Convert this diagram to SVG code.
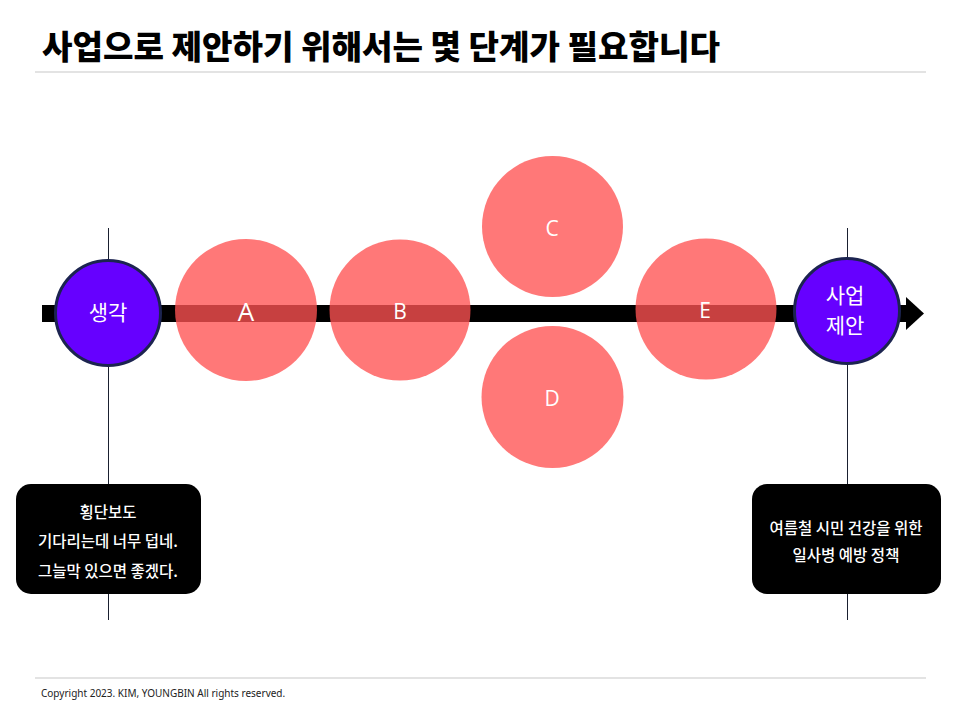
<svg xmlns="http://www.w3.org/2000/svg" width="960" height="720" viewBox="0 0 960 720">
<style>
.title{font-family:"Noto Sans CJK KR","Noto Sans",sans-serif;font-weight:900;font-size:33px;fill:#000}
.rule{stroke:#c8c8c8;stroke-width:1.2}
.vline{stroke:#1a2030;stroke-width:1}
.red{fill:#ff5252;fill-opacity:0.78}
.lbl{font-family:"Open Sans","Noto Sans CJK KR",sans-serif;font-size:21px;fill:#fff;text-anchor:middle}
.purple{fill:#6600ff;stroke:#1c2450;stroke-width:3}
.plbl{font-family:"Noto Sans CJK KR",sans-serif;font-size:21px;fill:#fff;text-anchor:middle}
.box{fill:#000}
.btxt{font-family:"Noto Sans CJK KR",sans-serif;font-size:15.5px;font-weight:500;fill:#fff;text-anchor:middle}
.foot{font-family:"Noto Sans","Noto Sans CJK KR",sans-serif;font-size:10px;fill:#222}
</style>
<rect width="960" height="720" fill="#fff"/>
<text class="title" x="42" y="59" textLength="678" lengthAdjust="spacingAndGlyphs">사업으로 제안하기 위해서는 몇 단계가 필요합니다</text>
<line class="rule" x1="35" y1="72" x2="926" y2="72"/>

<g id="connectors">
<line class="vline" x1="108.5" y1="228" x2="108.5" y2="620"/>
<line class="vline" x1="847.5" y1="228" x2="847.5" y2="620"/>
<rect x="42" y="305" width="866" height="17" fill="#000"/>
<polygon points="906,297 924,313.5 906,330" fill="#000"/>
</g>

<g id="node-A"><circle class="red" cx="246" cy="310" r="71"/><text class="lbl" x="246" y="321" style="font-size:26px">A</text></g>
<g id="node-B"><circle class="red" cx="400" cy="310" r="70.5"/><text class="lbl" x="400" y="319">B</text></g>
<g id="node-C"><circle class="red" cx="552.5" cy="226.5" r="70.5"/><text class="lbl" x="552" y="236">C</text></g>
<g id="node-D"><circle class="red" cx="552.5" cy="397" r="71"/><text class="lbl" x="552" y="406">D</text></g>
<g id="node-E"><circle class="red" cx="706" cy="309" r="70.5"/><text class="lbl" x="705" y="318">E</text></g>

<g id="node-start"><circle class="purple" cx="108" cy="313" r="52.5"/><text class="plbl" x="108" y="320">생각</text></g>
<g id="node-end"><circle class="purple" cx="847" cy="311" r="52.5"/><text class="plbl" x="845" y="303">사업</text><text class="plbl" x="845" y="333">제안</text></g>

<g id="note-left"><rect class="box" x="16" y="484" width="185" height="110" rx="15"/>
<text class="btxt" x="108" y="518">횡단보도</text>
<text class="btxt" x="108" y="547">기다리는데 너무 덥네.</text>
<text class="btxt" x="108" y="577">그늘막 있으면 좋겠다.</text></g>
<g id="note-right"><rect class="box" x="752" y="484" width="189" height="110" rx="15"/>
<text class="btxt" x="846" y="534">여름철 시민 건강을 위한</text>
<text class="btxt" x="846" y="561">일사병 예방 정책</text></g>

<line class="rule" x1="35" y1="678" x2="926" y2="678"/>
<text class="foot" x="41" y="697">Copyright 2023.  KIM, YOUNGBIN All rights reserved.</text>
</svg>
